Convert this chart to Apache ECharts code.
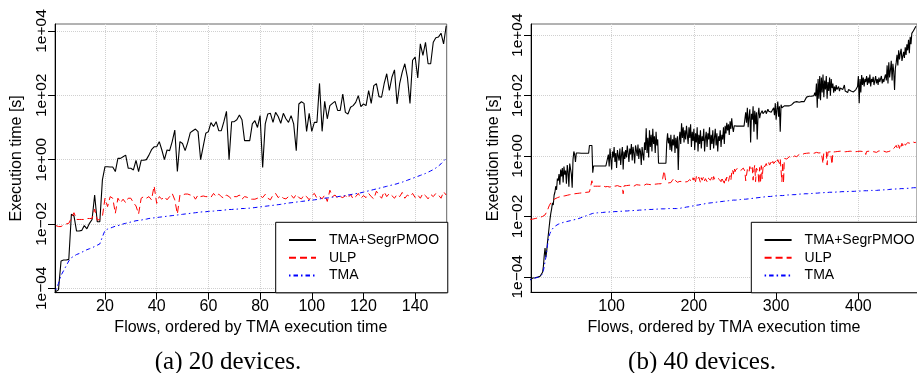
<!DOCTYPE html>
<html><head><meta charset="utf-8">
<script src="https://cdn.jsdelivr.net/npm/echarts@6/dist/echarts.min.js"></script>
<style>html,body{margin:0;padding:0;background:#fff}#c{width:917px;height:373px}</style>
</head><body><div id="c"></div><script>
const seriesNames = ['TMA+SegrPMOO', 'ULP', 'TMA'];
const yTickValues = [-4, -2, 0, 2, 4];
const yTickLabels = ['1e\u221204', '1e\u221202', '1e+00', '1e+02', '1e+04'];
const xTicks20 = [20, 40, 60, 80, 100, 120, 140];
const xTicks40 = [100, 200, 300, 400];
const captions = ['(a) 20 devices.', '(b) 40 devices.'];
const xTitle = 'Flows, ordered by TMA execution time';
const yTitle = 'Execution time [s]';

// log10 of execution time [s], flow index = position + 1 — 20 devices
const segr20Log10 = [
-4.10,-4.05,-3.15,-3.12,-3.12,-3.10,-1.70,-1.75,-2.22,-2.22,
-2.20,-2.05,-2.15,-1.98,-1.86,-1.10,-1.93,-1.93,-0.63,-0.22,
-0.22,-0.23,-0.23,-0.37,0.04,0.04,0.09,0.14,-0.27,-0.27,
-0.32,-0.02,-0.37,-0.02,-0.02,0.00,0.14,0.31,0.40,0.40,
0.56,0.30,0.00,0.30,0.28,0.56,0.92,-0.37,0.56,0.50,
0.28,0.53,0.84,0.90,0.95,0.87,0.00,0.41,0.82,0.87,
1.15,1.03,1.18,0.90,0.90,1.18,1.50,0.00,1.18,1.18,
1.24,1.39,1.24,0.59,0.59,0.59,1.11,1.21,1.00,1.37,
-0.24,1.11,1.42,1.44,1.16,1.47,1.34,1.13,1.44,1.27,
1.16,1.37,1.11,0.28,1.73,1.80,1.75,0.88,1.44,0.88,
1.16,1.16,2.37,0.88,1.81,1.27,1.68,1.75,1.81,1.53,
1.53,2.04,1.47,1.42,1.63,1.68,1.78,1.99,1.65,1.73,
1.68,2.15,1.75,2.30,2.36,1.96,1.94,2.36,2.67,2.15,
2.56,2.79,1.73,2.36,2.72,2.98,2.56,1.75,3.09,3.19,
2.54,3.60,3.24,3.65,2.98,2.98,3.65,3.79,3.81,3.93,
3.60,4.16];
const ulp20Log10 = [
-2.05,-2.08,-2.08,-2.03,-2.00,-1.98,-1.82,-1.65,-1.86,-1.86,
-1.86,-1.86,-1.83,-1.83,-1.83,-1.54,-1.88,-1.86,-1.77,-1.20,
-1.46,-1.15,-1.20,-1.67,-1.20,-1.34,-1.23,-1.34,-1.20,-1.20,
-1.34,-1.44,-1.69,-1.20,-1.15,-1.20,-1.15,-1.25,-0.82,-1.36,
-1.15,-1.23,-1.15,-1.25,-1.15,-1.05,-1.25,-1.69,-1.10,-1.10,
-1.07,-1.07,-1.10,-1.10,-1.23,-1.10,-1.15,-1.13,-1.15,-1.15,
-1.17,-1.05,-1.15,-1.07,-1.15,-1.20,-1.10,-1.15,-1.23,-1.15,
-1.15,-1.10,-1.23,-1.15,-1.17,-1.23,-1.23,-1.23,-1.20,-1.12,
-1.18,-1.08,-1.20,-1.25,-1.10,-1.05,-1.18,-1.12,-1.20,-1.22,
-1.15,-1.10,-1.20,-1.08,-1.18,-1.22,-1.10,-1.15,-1.25,-1.12,
-1.05,-1.20,-1.15,-1.22,-1.10,-1.30,-0.95,-1.15,-1.10,-1.20,
-1.15,-1.18,-1.12,-1.20,-1.08,-1.22,-1.15,-1.05,-1.20,-1.12,
-1.18,-1.05,-1.15,-1.22,-0.98,-1.10,-1.20,-1.00,-1.15,-1.05,
-1.12,-1.20,-1.08,-1.15,-1.02,-1.20,-1.10,-1.15,-1.05,-1.18,
-1.10,-1.20,-1.05,-1.12,-1.22,-1.08,-1.15,-1.05,-1.10,-1.20,
-1.00,-1.10];
const tma20Log10 = [
-4.05,-3.85,-3.60,-3.45,-3.30,-3.15,-3.05,-3.00,-2.95,-2.92,
-2.88,-2.84,-2.80,-2.77,-2.74,-2.70,-2.66,-2.62,-2.40,-2.20,
-2.16,-2.13,-2.10,-2.07,-2.05,-2.03,-2.00,-1.98,-1.96,-1.94,
-1.92,-1.90,-1.89,-1.88,-1.86,-1.85,-1.83,-1.82,-1.81,-1.80,
-1.79,-1.78,-1.77,-1.76,-1.75,-1.74,-1.73,-1.72,-1.71,-1.70,
-1.69,-1.68,-1.67,-1.66,-1.65,-1.64,-1.63,-1.62,-1.62,-1.61,
-1.60,-1.60,-1.59,-1.58,-1.58,-1.57,-1.56,-1.55,-1.55,-1.54,
-1.54,-1.53,-1.52,-1.52,-1.51,-1.51,-1.50,-1.49,-1.48,-1.47,
-1.46,-1.45,-1.44,-1.43,-1.42,-1.41,-1.40,-1.39,-1.38,-1.36,
-1.35,-1.34,-1.33,-1.32,-1.31,-1.30,-1.29,-1.28,-1.27,-1.26,
-1.25,-1.24,-1.22,-1.21,-1.20,-1.19,-1.18,-1.17,-1.16,-1.15,
-1.14,-1.13,-1.12,-1.10,-1.09,-1.07,-1.06,-1.04,-1.03,-1.01,
-0.99,-0.97,-0.95,-0.93,-0.91,-0.89,-0.87,-0.85,-0.83,-0.81,
-0.79,-0.77,-0.75,-0.72,-0.70,-0.67,-0.64,-0.61,-0.58,-0.55,
-0.52,-0.49,-0.46,-0.43,-0.39,-0.35,-0.31,-0.26,-0.20,-0.13,
-0.05,0.05];

// 40 devices
const segr40Log10 = [
-4.10,-4.06,-4.05,-4.04,-4.04,-4.03,-4.03,-4.02,-4.02,-4.01,
-4.00,-3.99,-3.98,-3.97,-3.92,-3.85,-3.65,-3.30,-3.05,-3.35,
-3.15,-2.85,-2.60,-2.35,-2.10,-1.90,-1.75,-1.55,-1.62,-1.30,
-1.20,-1.00,-1.12,-0.75,-0.82,-0.60,-0.95,-0.45,-0.68,-0.40,
-0.88,-0.35,-0.62,-0.48,-0.92,-0.30,-0.52,-1.02,-0.25,-0.20,
-0.60,-1.05,-0.12,0.15,0.05,-0.20,0.10,0.12,0.08,0.10,
0.09,0.09,0.09,0.09,0.09,0.09,0.09,0.09,0.09,0.09,
0.09,0.09,0.35,0.35,0.35,0.35,-0.55,-0.33,-0.33,-0.33,
-0.33,-0.33,-0.33,-0.33,-0.33,-0.33,-0.33,-0.33,-0.33,-0.33,
-0.33,-0.33,-0.33,-0.33,-0.33,0.05,-0.35,0.25,-0.10,-0.45,
0.15,-0.05,0.30,-0.20,0.10,-0.40,0.20,0.00,-0.15,0.25,
-0.30,0.05,0.30,-0.45,0.15,-0.10,0.20,-0.05,0.35,0.10,
-0.20,0.25,0.05,0.40,-0.15,0.30,0.10,-0.25,0.35,0.20,
0.00,0.38,-0.10,0.25,0.15,-0.30,0.30,0.05,-0.15,0.45,
0.20,0.92,0.10,0.60,-0.05,0.85,0.30,0.70,0.15,0.90,
0.40,0.65,0.10,0.80,0.35,0.55,-0.24,-0.24,-0.24,-0.24,
-0.24,-0.24,-0.24,-0.24,-0.24,-0.24,0.45,0.75,0.42,0.60,
0.20,0.70,0.15,0.55,0.35,0.70,0.10,0.60,0.25,0.65,
-0.46,0.50,0.80,0.40,1.08,0.60,0.95,0.45,0.85,0.55,
1.00,0.70,0.40,0.95,0.60,1.05,0.30,0.80,0.50,0.90,
0.20,0.75,0.45,0.95,0.15,0.70,0.40,0.85,0.25,0.65,
0.50,0.90,0.15,0.60,0.80,0.30,0.75,0.55,0.95,0.20,
0.70,0.40,0.85,0.25,0.60,0.90,0.35,0.75,0.15,0.65,
0.50,0.85,0.30,0.70,0.55,0.95,0.40,1.00,0.75,1.10,
0.85,1.05,0.70,1.15,0.90,1.25,0.95,0.80,1.00,0.99,
0.99,0.99,0.99,0.99,0.99,0.99,0.99,0.99,0.99,0.99,
0.99,1.00,1.45,1.10,1.60,0.95,1.30,1.55,0.45,1.40,
1.20,1.65,0.80,1.50,1.05,1.45,0.55,1.35,1.60,1.25,
1.40,1.45,1.50,1.40,1.45,1.45,1.50,1.40,1.45,1.55,
1.48,1.42,1.50,1.45,1.40,1.50,1.60,1.35,1.75,1.20,
1.55,1.80,1.30,1.65,0.80,1.70,1.60,1.66,1.66,1.66,
1.66,1.66,1.66,1.66,1.66,1.66,1.66,1.66,1.70,1.72,
1.75,1.78,1.80,1.80,1.80,1.80,1.80,1.78,1.80,1.82,
1.80,1.78,1.80,1.80,1.85,1.80,1.95,2.00,1.95,1.98,
2.00,1.96,1.98,2.00,1.95,2.00,2.10,1.98,2.40,1.60,
2.55,1.90,2.65,1.85,2.60,2.10,2.70,1.95,2.50,2.20,
2.65,1.90,2.45,2.15,2.60,2.00,2.55,2.25,2.40,2.10,
2.30,2.15,2.35,2.20,2.25,2.30,2.15,2.25,2.20,2.30,
2.20,2.25,2.35,2.15,2.20,2.15,2.10,2.20,2.15,2.20,
2.15,2.10,2.20,2.12,2.15,2.10,2.20,2.15,2.30,2.65,
1.75,2.55,2.10,2.68,2.35,2.60,2.30,2.55,2.45,2.65,
2.35,2.60,2.40,2.70,2.30,2.55,2.45,2.62,2.35,2.50,
2.65,2.40,2.55,2.35,2.60,2.45,2.50,2.65,2.40,2.55,
2.45,2.60,2.70,2.50,3.00,2.40,3.10,2.60,2.85,3.15,
2.50,3.05,2.80,2.19,2.90,3.10,3.35,3.00,3.50,3.20,
3.40,3.55,3.15,3.30,3.45,3.25,3.60,3.35,3.70,3.50,
3.85,3.40,3.95,3.70,4.06,4.10,4.15,4.20,4.25,4.30];
const ulp40Log10 = [
-2.10,-2.10,-2.09,-2.09,-2.08,-2.08,-2.07,-2.07,-2.06,-2.05,
-2.04,-2.03,-2.03,-2.02,-2.01,-2.00,-1.98,-1.97,-1.95,-1.93,
-1.90,-1.80,-1.72,-1.65,-1.60,-1.55,-1.50,-1.48,-1.46,-1.44,
-1.42,-1.40,-1.39,-1.38,-1.37,-1.36,-1.35,-1.35,-1.34,-1.33,
-1.33,-1.32,-1.32,-1.31,-1.30,-1.30,-1.29,-1.29,-1.28,-1.28,
-1.27,-1.27,-1.26,-1.26,-1.25,-1.25,-1.24,-1.24,-1.23,-1.23,
-1.23,-1.22,-1.22,-1.22,-1.21,-1.21,-1.21,-1.20,-1.20,-1.20,
-1.20,-1.19,-1.19,-1.18,-1.18,-0.82,-1.00,-1.00,-0.98,-1.00,
-1.01,-0.99,-1.00,-0.98,-1.02,-1.00,-0.99,-1.01,-0.97,-1.00,
-0.99,-1.02,-1.00,-0.98,-1.01,-0.99,-1.00,-1.03,-0.98,-1.00,
-0.99,-1.01,-0.97,-1.00,-0.99,-1.02,-0.98,-1.00,-0.99,-1.01,
-0.98,-1.00,-1.02,-1.25,-0.99,-0.97,-1.00,-0.98,-1.01,-0.99,
-0.97,-1.00,-0.98,-0.96,-0.99,-0.97,-1.00,-0.96,-0.98,-0.95,
-0.97,-0.99,-0.96,-0.98,-0.95,-0.97,-0.94,-0.96,-0.98,-0.95,
-0.96,-0.93,-0.95,-0.97,-0.94,-0.96,-0.92,-0.95,-0.93,-0.96,
-0.94,-0.92,-0.95,-0.93,-0.91,-0.94,-0.92,-0.93,-0.90,-0.92,
-0.88,-0.75,-0.60,-0.49,-0.70,-0.85,-0.88,-0.86,-0.89,-0.87,
-0.85,-0.88,-0.84,-0.80,-0.76,-0.73,-0.80,-0.86,-0.83,-0.87,
-0.85,-0.88,-0.84,-0.86,-0.82,-0.85,-0.87,-0.83,-0.86,-0.84,
-0.82,-0.85,-0.80,-0.84,-0.78,-0.83,-0.75,-0.86,-0.72,-0.80,
-0.70,-0.85,-0.68,-0.78,-0.82,-0.70,-0.76,-0.88,-0.72,-0.80,
-0.74,-0.68,-0.82,-0.75,-0.70,-0.85,-0.72,-0.78,-0.66,-0.80,
-0.74,-0.70,-0.82,-0.68,-0.76,-0.72,-0.80,-0.70,-0.75,-0.68,
-0.78,-0.72,-0.85,-0.70,-0.80,-0.75,-0.90,-0.72,-0.82,-0.70,
-0.78,-0.85,-0.72,-0.65,-0.80,-0.55,-0.45,-0.60,-0.40,-0.52,
-0.45,-0.42,-0.50,-0.40,-0.46,-0.38,-0.48,-0.42,-0.44,-0.40,
-0.46,-0.50,-0.82,-0.85,-0.45,-0.40,-0.55,-0.35,-0.48,-0.42,
-0.38,-0.80,-0.45,-0.30,-0.85,-0.40,-0.35,-0.50,-0.92,-0.38,
-0.90,-0.32,-0.75,-0.40,-0.28,-0.36,-0.30,-0.25,-0.34,-0.28,
-0.22,-0.30,-0.26,-0.20,-0.28,-0.18,-0.25,-0.20,-0.24,-0.15,
-0.22,-0.12,-0.18,-0.25,-0.10,-0.15,-0.85,-0.20,-0.90,-0.08,
-0.12,-0.06,-0.10,-0.04,-0.08,-0.02,-0.06,-0.03,-0.07,-0.01,
-0.04,0.00,-0.03,0.02,-0.02,0.03,0.00,0.05,0.02,0.06,
0.03,0.07,0.04,0.08,0.05,0.06,0.09,0.05,0.08,0.10,
0.07,0.11,0.08,0.10,0.12,0.09,0.11,0.08,0.12,0.10,
0.13,0.10,0.12,0.14,0.11,0.13,-0.25,0.12,0.14,0.11,
0.15,-0.30,0.13,0.16,0.12,0.14,0.16,-0.28,0.13,0.15,
0.17,0.14,0.16,0.13,0.15,0.18,0.14,0.16,0.13,0.17,
0.15,0.12,0.16,0.14,0.17,0.13,0.15,0.18,0.14,0.16,
0.13,0.17,0.15,0.12,0.16,0.14,0.17,0.13,0.15,0.18,
0.14,0.16,0.13,0.17,0.15,0.12,0.16,0.14,0.05,0.15,
0.17,0.13,0.16,0.14,0.18,0.15,0.13,0.16,0.14,0.17,
0.15,0.12,0.16,0.14,0.17,0.15,0.13,0.16,0.18,0.14,
0.16,0.15,0.17,0.13,0.16,0.18,0.15,0.17,0.14,0.18,
0.16,0.20,0.25,0.30,0.22,0.35,0.28,0.40,0.32,0.25,
0.38,0.30,0.42,0.34,0.28,0.45,0.36,0.40,0.30,0.44,
0.38,0.48,0.42,0.46,0.40,0.47,0.45,0.48,0.44,0.46];
const tma40Log10 = [
-4.10,-4.08,-4.07,-4.06,-4.05,-4.05,-4.04,-4.03,-4.03,-4.02,
-4.01,-4.00,-3.99,-3.97,-3.95,-3.90,-3.80,-3.65,-3.50,-3.35,
-3.15,-2.95,-2.78,-2.65,-2.56,-2.50,-2.45,-2.41,-2.38,-2.35,
-2.33,-2.31,-2.29,-2.28,-2.26,-2.25,-2.24,-2.23,-2.22,-2.21,
-2.20,-2.20,-2.19,-2.18,-2.17,-2.17,-2.16,-2.15,-2.15,-2.14,
-2.13,-2.13,-2.12,-2.12,-2.11,-2.10,-2.10,-2.09,-2.08,-2.07,
-2.06,-2.05,-2.04,-2.03,-2.02,-2.01,-2.00,-1.99,-1.98,-1.97,
-1.96,-1.95,-1.94,-1.93,-1.92,-1.91,-1.90,-1.90,-1.89,-1.89,
-1.89,-1.89,-1.88,-1.88,-1.88,-1.88,-1.87,-1.87,-1.87,-1.87,
-1.87,-1.86,-1.86,-1.86,-1.86,-1.86,-1.85,-1.85,-1.85,-1.85,
-1.85,-1.85,-1.85,-1.84,-1.84,-1.84,-1.84,-1.84,-1.83,-1.83,
-1.83,-1.83,-1.83,-1.83,-1.82,-1.82,-1.82,-1.82,-1.82,-1.82,
-1.81,-1.81,-1.81,-1.81,-1.81,-1.81,-1.80,-1.80,-1.80,-1.80,
-1.80,-1.80,-1.79,-1.79,-1.79,-1.79,-1.79,-1.79,-1.78,-1.78,
-1.78,-1.78,-1.78,-1.78,-1.77,-1.77,-1.77,-1.77,-1.77,-1.77,
-1.76,-1.76,-1.76,-1.76,-1.76,-1.76,-1.76,-1.75,-1.75,-1.75,
-1.75,-1.75,-1.75,-1.75,-1.75,-1.74,-1.74,-1.74,-1.74,-1.74,
-1.74,-1.74,-1.74,-1.74,-1.74,-1.74,-1.74,-1.74,-1.74,-1.74,
-1.74,-1.74,-1.73,-1.73,-1.72,-1.72,-1.71,-1.71,-1.70,-1.70,
-1.69,-1.69,-1.68,-1.68,-1.67,-1.67,-1.66,-1.66,-1.65,-1.65,
-1.64,-1.64,-1.63,-1.63,-1.62,-1.62,-1.61,-1.61,-1.60,-1.60,
-1.59,-1.59,-1.58,-1.58,-1.57,-1.57,-1.56,-1.56,-1.56,-1.55,
-1.55,-1.55,-1.54,-1.54,-1.54,-1.53,-1.53,-1.53,-1.52,-1.52,
-1.52,-1.51,-1.51,-1.51,-1.50,-1.50,-1.50,-1.49,-1.49,-1.49,
-1.48,-1.48,-1.48,-1.47,-1.47,-1.47,-1.47,-1.46,-1.46,-1.46,
-1.46,-1.45,-1.45,-1.45,-1.45,-1.44,-1.44,-1.44,-1.44,-1.43,
-1.43,-1.43,-1.43,-1.42,-1.42,-1.42,-1.42,-1.41,-1.41,-1.41,
-1.40,-1.40,-1.40,-1.39,-1.39,-1.39,-1.38,-1.38,-1.38,-1.37,
-1.37,-1.37,-1.36,-1.36,-1.36,-1.35,-1.35,-1.35,-1.35,-1.34,
-1.34,-1.34,-1.34,-1.33,-1.33,-1.33,-1.33,-1.33,-1.32,-1.32,
-1.32,-1.32,-1.32,-1.31,-1.31,-1.31,-1.31,-1.31,-1.30,-1.30,
-1.30,-1.30,-1.30,-1.29,-1.29,-1.29,-1.29,-1.29,-1.28,-1.28,
-1.28,-1.28,-1.28,-1.27,-1.27,-1.27,-1.27,-1.27,-1.26,-1.26,
-1.26,-1.26,-1.26,-1.26,-1.25,-1.25,-1.25,-1.25,-1.25,-1.25,
-1.24,-1.24,-1.24,-1.24,-1.24,-1.24,-1.23,-1.23,-1.23,-1.23,
-1.23,-1.23,-1.22,-1.22,-1.22,-1.22,-1.22,-1.22,-1.21,-1.21,
-1.21,-1.21,-1.21,-1.21,-1.20,-1.20,-1.20,-1.20,-1.20,-1.20,
-1.20,-1.19,-1.19,-1.19,-1.19,-1.19,-1.19,-1.19,-1.18,-1.18,
-1.18,-1.18,-1.18,-1.18,-1.18,-1.18,-1.17,-1.17,-1.17,-1.17,
-1.17,-1.17,-1.17,-1.17,-1.17,-1.16,-1.16,-1.16,-1.16,-1.16,
-1.16,-1.16,-1.16,-1.16,-1.15,-1.15,-1.15,-1.15,-1.15,-1.15,
-1.15,-1.15,-1.15,-1.15,-1.14,-1.14,-1.14,-1.14,-1.14,-1.14,
-1.14,-1.14,-1.13,-1.13,-1.13,-1.13,-1.13,-1.13,-1.13,-1.12,
-1.12,-1.12,-1.12,-1.12,-1.11,-1.11,-1.11,-1.11,-1.11,-1.10,
-1.10,-1.10,-1.10,-1.10,-1.09,-1.09,-1.09,-1.09,-1.09,-1.08,
-1.08,-1.08,-1.08,-1.08,-1.08,-1.07,-1.07,-1.07,-1.07,-1.07,
-1.07,-1.06,-1.06,-1.06,-1.06,-1.06,-1.05,-1.05,-1.05,-1.05];

const FONT = '"Liberation Sans", Arial, Helvetica, sans-serif';
const SERIF = '"Liberation Serif", "Times New Roman", serif';
const colors = ['#000000', '#ff0000', '#0000ff'];
const dashes = ['solid', [7, 4], [1.5, 3, 4.5, 3]];

const panels = [
  { grid: { left: 55, right: 470.3, top: 24, bottom: 80.3 }, xMin: 0.66, xMax: 152.2, xTicks: xTicks20,
    yMin: -4.137, yMax: 4.217, data: [segr20Log10, ulp20Log10, tma20Log10], legendLeft: 275.7, capX: 228, yNameGap: 30 },
  { grid: { left: 531, right: -5, top: 24, bottom: 80.7 }, xMin: 1.92, xMax: 471.3, xTicks: xTicks40,
    yMin: -4.513, yMax: 4.371, data: [segr40Log10, ulp40Log10, tma40Log10], legendLeft: 751.3, capX: 702, yNameGap: 29 }
];

const splitStyle = { show: true, lineStyle: { color: '#d0d0d0', type: 'dotted', width: 1 } };
const option = {
  animation: false,
  backgroundColor: '#fff',
  grid: panels.map(p => Object.assign({ show: true, borderColor: '#666', borderWidth: 1, backgroundColor: 'transparent' }, p.grid)),
  xAxis: panels.map((p, g) => ({
    type: 'value', gridIndex: g, min: p.xMin, max: p.xMax,
    name: xTitle, nameLocation: 'middle', nameGap: 25,
    nameTextStyle: { fontFamily: FONT, fontSize: 16, color: '#000' },
    axisLine: { show: true, onZero: false, lineStyle: { color: '#000', width: 1 } },
    axisTick: { show: true, inside: false, length: 7, customValues: p.xTicks, lineStyle: { color: '#000' } },
    axisLabel: { show: true, customValues: p.xTicks, margin: 6, fontFamily: FONT, fontSize: 16, color: '#000' },
    splitLine: splitStyle
  })),
  yAxis: panels.map((p, g) => ({
    type: 'value', gridIndex: g, min: p.yMin, max: p.yMax,
    name: yTitle, nameLocation: 'middle', nameGap: p.yNameGap, nameRotate: 90,
    nameTextStyle: { fontFamily: FONT, fontSize: 16, color: '#000' },
    axisLine: { show: true, onZero: false, lineStyle: { color: '#000', width: 1 } },
    axisTick: { show: true, inside: false, length: 7, customValues: yTickValues, lineStyle: { color: '#000' } },
    axisLabel: { show: true, customValues: yTickValues, rotate: 90, margin: 5, fontFamily: FONT, fontSize: 15.5, color: '#000',
      formatter: v => { const k = yTickValues.indexOf(Math.round(v)); return k >= 0 ? yTickLabels[k] : ''; } },
    splitLine: splitStyle
  })),
  legend: panels.map(p => ({
    data: seriesNames, orient: 'vertical', left: p.legendLeft, top: 222.3,
    backgroundColor: '#fff', borderColor: '#000', borderWidth: 1, borderRadius: 0,
    padding: [10.7, 8.7, 10.4, 12.3], itemWidth: 27, itemHeight: 14, itemGap: 3.7,
    selectedMode: false,
    itemStyle: { opacity: 0 },
    textStyle: { fontFamily: FONT, fontSize: 14, color: '#000', padding: [0, 0, 0, 8] }
  })),
  series: [],
  graphic: panels.map((p, g) => ({
    type: 'text', x: p.capX, y: 362,
    style: { text: captions[g], font: '25px ' + SERIF, fill: '#000', textAlign: 'center', textVerticalAlign: 'middle' }
  }))
};
panels.forEach((p, g) => {
  p.data.forEach((arr, s) => {
    option.series.push({
      type: 'line', name: seriesNames[s], xAxisIndex: g, yAxisIndex: g,
      data: arr.map((v, i) => [i + 1, v]),
      symbol: 'none', showSymbol: false, silent: true, clip: true,
      lineStyle: { color: colors[s], width: s === 0 ? 1.1 : 1, type: dashes[s] },
      itemStyle: { color: colors[s] }
    });
  });
});
const chart = echarts.init(document.getElementById('c'), null, { renderer: 'canvas' });
chart.setOption(option);
</script></body></html>
